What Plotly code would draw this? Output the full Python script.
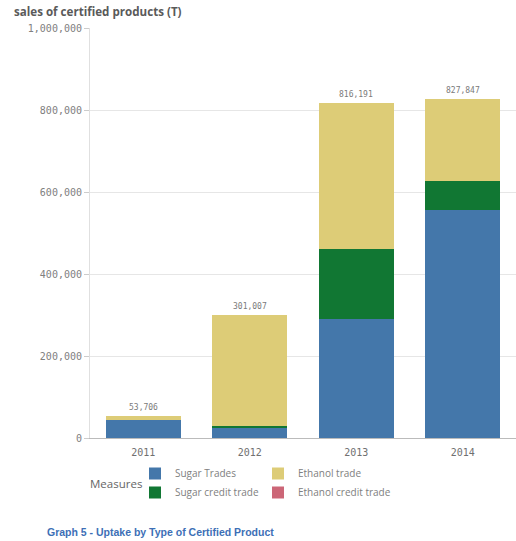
import plotly.graph_objects as go

years = ["2011", "2012", "2013", "2014"]
sugar_trades = [43000, 26000, 291000, 556000]
sugar_credit = [0, 4000, 170000, 71600]
ethanol_trade = [10706, 271007, 355191, 200247]
ethanol_credit = [0, 0, 0, 0]
total_labels = ["53,706", "301,007", "816,191", "827,847"]
totals = [53706, 301007, 816191, 827847]
y_ticks = [0, 200000, 400000, 600000, 800000, 1000000]

W, H = 516, 541
L, R, T, B = 90, 0, 28, 103
PW, PH = W - L - R, H - T - B

fig = go.Figure()
series = [
    ("Sugar Trades", sugar_trades, "#4477aa", "legend"),
    ("Sugar credit trade", sugar_credit, "#117733", "legend"),
    ("Ethanol trade", ethanol_trade, "#ddcc77", "legend2"),
    ("Ethanol credit trade", ethanol_credit, "#cc6677", "legend2"),
]
for name, vals, col, lg in series:
    fig.add_trace(go.Bar(x=years, y=vals, name=name, marker=dict(color=col, line=dict(width=0)),
                         legend=lg))

for i, (tot, lab) in enumerate(zip(totals, total_labels)):
    fig.add_annotation(x=i, y=tot, xref="x", yref="y", text=lab, showarrow=False,
                       yanchor="bottom", yshift=2,
                       font=dict(family="DejaVu Sans Mono", size=8, color="#7a7a7a"))

legend_common = dict(orientation="v", traceorder="normal", bgcolor="rgba(0,0,0,0)",
                     font=dict(family="Open Sans", size=10, color="#808080"),
                     xref="paper", yref="paper", xanchor="left", yanchor="top",
                     itemwidth=30, tracegroupgap=2, itemclick=False)
fig.update_layout(
    width=W, height=H,
    margin=dict(l=L, r=R, t=T, b=B),
    paper_bgcolor="white", plot_bgcolor="white",
    barmode="stack", bargap=0.3,
    showlegend=True,
    legend=dict(x=(135 - L) / PW, y=-(459 - 438) / PH, **legend_common),
    legend2=dict(x=(258 - L) / PW, y=-(459 - 438) / PH, **legend_common),
    xaxis=dict(type="category", showgrid=False, showline=True, linecolor="#bbbbbb", linewidth=1,
               ticks="", ticklabelstandoff=5,
               tickfont=dict(family="DejaVu Sans Mono", size=10, color="#707070")),
    yaxis=dict(range=[0, 1000000], tickvals=y_ticks, tickformat=",", showgrid=True,
               gridcolor="#e6e6e6", gridwidth=1, zeroline=False, showline=True,
               linecolor="#e0e0e0", ticks="outside", ticklen=5, tickcolor="#cccccc",
               tickfont=dict(family="DejaVu Sans Mono", size=10, color="#808080")),
    font=dict(family="Open Sans"),
)

fig.add_annotation(xref="paper", yref="paper", x=-(L - 12) / PW, y=1 + (T - 12) / PH,
                   xanchor="left", yanchor="middle", showarrow=False,
                   text="<b>sales of certified products (T)</b>",
                   font=dict(family="Open Sans", size=11.6, color="#5a5a5a"))
fig.add_annotation(xref="paper", yref="paper", x=-0.005, y=-(483 - 438) / PH,
                   xanchor="left", yanchor="middle", showarrow=False, text="Measures",
                   font=dict(family="Open Sans", size=11.5, color="#666666"))
fig.add_annotation(xref="paper", yref="paper", x=-(L - 45) / PW, y=-(532 - 438) / PH,
                   xanchor="left", yanchor="middle", showarrow=False,
                   text="<b>Graph 5 - Uptake by Type of Certified Product</b>",
                   font=dict(family="Liberation Sans", size=10.5, color="#3d6fb6"))

fig.write_html("out.html")
